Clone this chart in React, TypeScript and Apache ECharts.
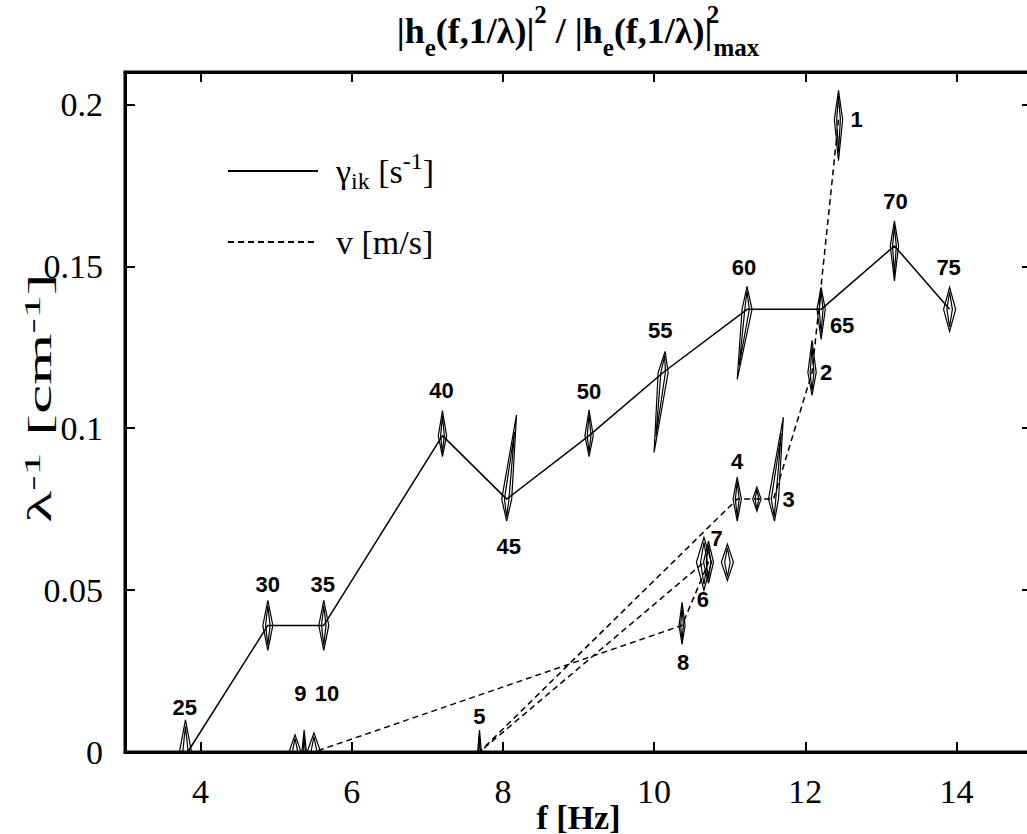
import React, { useEffect, useRef } from 'react';
import * as echarts from 'echarts';

// gamma_ik curve (solid): labelled peaks in path order
const gammaNames = ['25', '30', '35', '40', '45', '50', '55', '60', '65', '70', '75'];
const gammaF = [3.83, 4.89, 5.63, 7.2, 8.05, 9.14, 10.12, 11.23, 12.21, 13.18, 13.91];
const gammaY = [0, 0.0391, 0.0391, 0.0977, 0.0781, 0.0977, 0.1172, 0.1367, 0.1367, 0.1563, 0.1367];

// v curve (dashed): labelled peaks
const vNames = ['1', '2', '3', '4', '5', '6', '7', '8', '9', '10'];
const vF = [12.44, 12.09, 11.58, 11.1, 7.69, 10.66, 10.72, 10.37, 5.36, 5.5];
const vY = [0.1953, 0.1172, 0.0781, 0.0781, 0, 0.0586, 0.0586, 0.0391, 0, 0];
const vPath = ['1', '2', '3', '4', '5', '6', '7', '8', '10'];

const xTicks = [4, 6, 8, 10, 12, 14];
const yTicks = [0, 0.05, 0.1, 0.15, 0.2];

// contour peaks: [f, 1/lambda, topDf, topDy, bottomDf, bottomDy, halfWidth]
const contourPeaks = [
  [3.8, 0, 0, 0.0099, 0, 0.0099, 0.08],
  [5.25, 0, 0, 0.0053, 0, 0.0053, 0.08],
  [5.37, 0, 0, 0.0068, 0, 0.0068, 0.03],
  [5.5, 0, 0, 0.0059, 0, 0.0059, 0.09],
  [7.69, 0, 0, 0.0068, 0, 0.0068, 0.025],
  [4.89, 0.0391, 0, 0.0077, 0, 0.0077, 0.066],
  [5.63, 0.0391, 0, 0.0077, 0, 0.0077, 0.066],
  [7.2, 0.0977, 0, 0.0077, 0, 0.0065, 0.055],
  [8.05, 0.0781, 0.13, 0.026, 0, 0.0068, 0.066],
  [9.14, 0.0977, 0, 0.008, 0, 0.0065, 0.055],
  [10.12, 0.1172, 0.026, 0.0065, -0.12, 0.0247, 0.066],
  [11.23, 0.1367, 0, 0.0071, -0.13, 0.0216, 0.066],
  [12.21, 0.1367, 0, 0.0068, 0, 0.0093, 0.055],
  [13.18, 0.1563, 0, 0.0077, 0, 0.0108, 0.055],
  [13.91, 0.1367, 0, 0.0068, 0, 0.0068, 0.08],
  [12.44, 0.1953, 0, 0.009, 0, 0.0127, 0.055],
  [12.09, 0.1172, 0, 0.0099, 0, 0.0071, 0.055],
  [11.58, 0.0781, 0.13, 0.0253, 0.013, 0.0068, 0.066],
  [11.36, 0.0781, 0, 0.0037, 0, 0.0037, 0.055],
  [11.1, 0.0781, 0, 0.0068, 0, 0.0068, 0.055],
  [10.66, 0.0586, 0, 0.0077, 0, 0.0086, 0.1],
  [10.72, 0.0586, 0, 0.0065, 0, 0.0065, 0.066],
  [10.97, 0.0586, 0, 0.0056, 0, 0.0056, 0.08],
  [10.37, 0.0391, 0, 0.0071, 0, 0.0059, 0.04],
];

// label offsets in px (styling)
const labelOffsets: Record<string, [number, number]> = {
  '25': [-3, -45], '30': [0, -41], '35': [-1, -41], '40': [-1, -45], '45': [2, 47],
  '50': [0, -44], '55': [-3, -42], '60': [-3, -42], '65': [21, 16], '70': [1, -44], '75': [-1, -42],
  '1': [18, 0], '2': [14, 0], '3': [15, 0], '4': [0, -38], '5': [0, -36], '6': [-1, 37],
  '7': [8, -24], '8': [1, 37], '9': [-3, -59], '10': [13, -59],
};

const SERIF = 'Liberation Serif, Times New Roman, serif';
const SANS = 'Liberation Sans, Arial, sans-serif';

export default function App() {
  const ref = useRef<HTMLDivElement>(null);
  useEffect(() => {
    if (!ref.current) return;
    const chart = echarts.init(ref.current, null, { renderer: 'svg' });

    const gammaData = gammaF.map((f, i) => [f, gammaY[i]]);
    const vData = vPath.map((n) => {
      const i = vNames.indexOf(n);
      return [vF[i], vY[i]];
    });
    const labelStyle = {
      show: true,
      position: 'inside',
      fontFamily: SANS,
      fontWeight: 'bold',
      fontSize: 22,
      color: '#000',
      opacity: 1,
      textBorderWidth: 0,
    };
    const labelData = [
      ...gammaNames.map((n, i) => ({ value: [gammaF[i], gammaY[i]], name: n })),
      ...vNames.map((n, i) => ({ value: [vF[i], vY[i]], name: n })),
    ].map((d) => ({
      ...d,
      label: { ...labelStyle, offset: labelOffsets[d.name] || [0, 0] },
    }));

    const tickStyle = { show: true, inside: true, length: 10, lineStyle: { color: '#000', width: 2 } };

    const option: any = {
      animation: false,
      backgroundColor: '#fff',
      textStyle: { fontFamily: SERIF },
      title: {
        left: 578,
        top: 2,
        padding: 0,
        textAlign: 'center',
        text: '{m||h}{sub|e}{m|(f,1/λ)|}{sup|2}{m| / |h}{sub|e}{m|(f,1/λ)|}{sup2|2}{sub|max}',
        textStyle: {
          rich: {
            m: { fontFamily: SERIF, fontWeight: 'bold', fontSize: 36, lineHeight: 58, color: '#000' },
            sub: { fontFamily: SERIF, fontWeight: 'bold', fontSize: 25, lineHeight: 25, verticalAlign: 'bottom', color: '#000' },
            sup: { fontFamily: SERIF, fontWeight: 'bold', fontSize: 25, lineHeight: 25, verticalAlign: 'top', color: '#000' },
            sup2: { fontFamily: SERIF, fontWeight: 'bold', fontSize: 25, lineHeight: 25, verticalAlign: 'top', width: 1, color: '#000' },
          },
        },
      },
      graphic: [
        {
          type: 'text',
          x: 40,
          y: 398,
          rotation: Math.PI / 2,
          scaleX: 2.0,
          scaleY: 1,
          z: 10,
          style: {
            text: '{n|λ}{s|-1}{n| [cm}{s|-1}{n|]}',
            align: 'center',
            verticalAlign: 'middle',
            rich: {
              n: { fontFamily: SERIF, fontSize: 33, lineHeight: 38, fill: '#000' },
              s: { fontFamily: SERIF, fontSize: 23, lineHeight: 22, verticalAlign: 'top', fill: '#000' },
            },
          },
        },
      ],
      legend: {
        left: 222,
        top: 144,
        orient: 'vertical',
        itemWidth: 90,
        itemHeight: 14,
        itemGap: 32,
        selectedMode: false,
        data: ['gamma', 'v'],
        itemStyle: { color: 'transparent', borderColor: 'transparent', borderWidth: 0, opacity: 0 },
        formatter: (name: string) =>
          name === 'gamma' ? '{n|γ}{sub|ik}{n| [s}{sup|-1}{n|]}' : '{n|v [m/s]}',
        textStyle: {
          padding: [0, 0, 0, 13],
          rich: {
            n: { fontFamily: SERIF, fontSize: 34, lineHeight: 44, color: '#000' },
            sub: { fontFamily: SERIF, fontSize: 24, lineHeight: 24, verticalAlign: 'bottom', color: '#000' },
            sup: { fontFamily: SERIF, fontSize: 24, lineHeight: 24, verticalAlign: 'top', color: '#000' },
          },
        },
      },
      grid: {
        left: 125,
        right: -5,
        top: 72,
        bottom: 82,
        containLabel: false,
        outerBoundsMode: 'none',
        show: true,
        borderColor: '#000',
        borderWidth: 3,
        backgroundColor: 'transparent',
      },
      xAxis: [
        {
          type: 'value',
          min: 3,
          max: 15,
          position: 'bottom',
          name: 'f [Hz]',
          nameLocation: 'middle',
          nameGap: 48,
          nameMoveOverlap: false,
          nameTextStyle: { fontFamily: SERIF, fontWeight: 'bold', fontSize: 34, color: '#000' },
          axisLine: { show: true, onZero: false, lineStyle: { color: '#000', width: 3 } },
          axisTick: { ...tickStyle, customValues: xTicks },
          axisLabel: { customValues: xTicks, fontFamily: SERIF, fontSize: 34, color: '#000', margin: 22 },
          splitLine: { show: false },
        },
        {
          type: 'value',
          min: 3,
          max: 15,
          position: 'top',
          axisLine: { show: true, onZero: false, lineStyle: { color: '#000', width: 3 } },
          axisTick: { ...tickStyle, customValues: xTicks },
          axisLabel: { show: false },
          splitLine: { show: false },
        },
      ],
      yAxis: [
        {
          type: 'value',
          min: 0,
          max: 0.21,
          position: 'left',
          axisLine: { show: true, onZero: false, lineStyle: { color: '#000', width: 3 } },
          axisTick: { ...tickStyle, customValues: yTicks },
          axisLabel: { customValues: yTicks, fontFamily: SERIF, fontSize: 34, color: '#000', margin: 22 },
          splitLine: { show: false },
        },
        {
          type: 'value',
          min: 0,
          max: 0.21,
          position: 'right',
          axisLine: { show: true, onZero: false, lineStyle: { color: '#000', width: 3 } },
          axisTick: { ...tickStyle, customValues: yTicks },
          axisLabel: { show: false },
          splitLine: { show: false },
        },
      ],
      series: [
        {
          name: 'gamma',
          type: 'line',
          data: gammaData,
          symbol: 'none',
          lineStyle: { color: '#000', width: 1.5, type: 'solid' },
          itemStyle: { color: '#000' },
          z: 3,
        },
        {
          name: 'v',
          type: 'line',
          data: vData,
          symbol: 'none',
          lineStyle: { color: '#000', width: 1.5, type: [6, 4] },
          itemStyle: { color: '#000' },
          z: 3,
        },
        {
          name: 'contours',
          type: 'custom',
          clip: true,
          data: contourPeaks,
          encode: { x: 0, y: 1 },
          z: 4,
          renderItem: (params: any, api: any) => {
            const f = api.value(0);
            const y = api.value(1);
            const tx = api.value(2);
            const ty = api.value(3);
            const bx = api.value(4);
            const by = api.value(5);
            const w = api.value(6);
            const mk = (s: number, k: number) => [
              api.coord([f + tx * s, y + ty * s]),
              api.coord([f + w * k, y]),
              api.coord([f + bx * s, y - by * s]),
              api.coord([f - w * k, y]),
            ];
            const st = { fill: 'none', stroke: '#000', lineWidth: 1.2 };
            return {
              type: 'group',
              children: [
                { type: 'polygon', shape: { points: mk(1, 1) }, style: st },
                { type: 'polygon', shape: { points: mk(0.8, 0.45) }, style: st },
              ],
            };
          },
        },
        {
          name: 'labels',
          type: 'scatter',
          data: labelData,
          symbolSize: 0,
          itemStyle: { color: '#000', opacity: 1 },
          z: 5,
          label: {
            ...labelStyle,
            formatter: (p: any) => p.name,
          },
        },
      ],
    };
    chart.setOption(option);
    return () => chart.dispose();
  }, []);
  return (
    <div
      ref={ref}
      style={{ position: 'absolute', left: 0, top: 0, width: 1027, height: 834 }}
    />
  );
}
